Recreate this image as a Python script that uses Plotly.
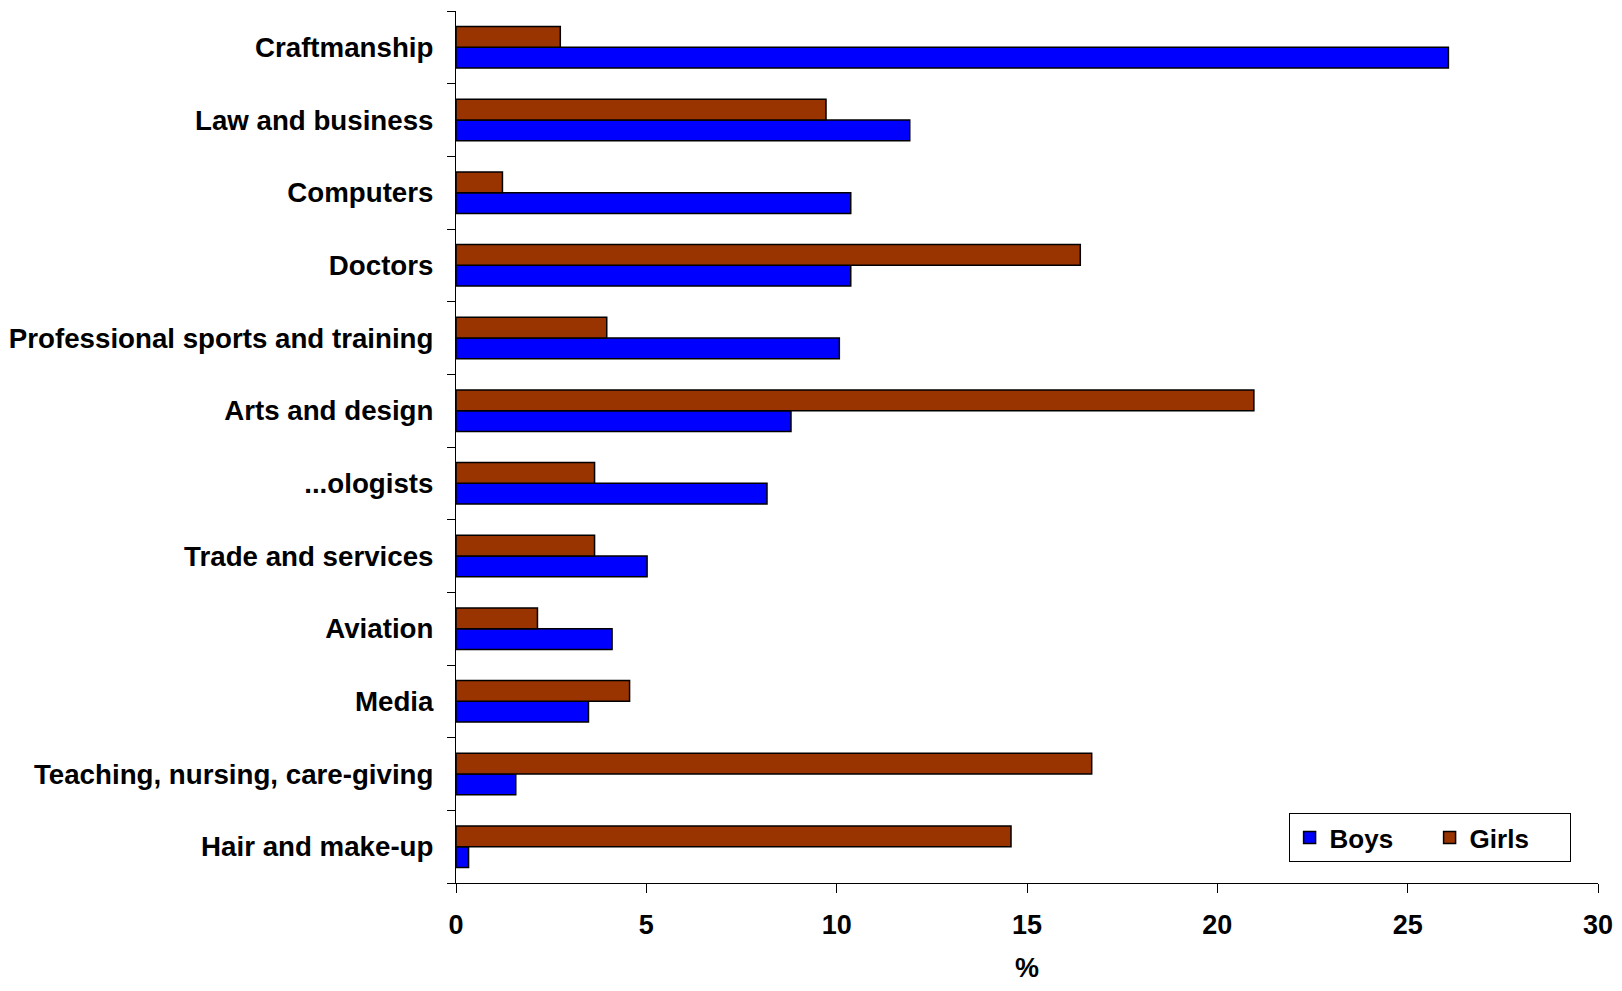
import plotly.graph_objects as go

# categories listed bottom to top
categories = [
    "Hair and make-up",
    "Teaching, nursing, care-giving",
    "Media",
    "Aviation",
    "Trade and services",
    "...ologists",
    "Arts and design",
    "Professional sports and training",
    "Doctors",
    "Computers",
    "Law and business",
    "Craftmanship",
]
boys = [0.33, 1.57, 3.48, 4.10, 5.02, 8.17, 8.80, 10.07, 10.37, 10.37, 11.92, 26.07]
girls = [14.58, 16.70, 4.56, 2.14, 3.64, 3.64, 20.96, 3.96, 16.40, 1.22, 9.72, 2.74]
x_ticks = [0, 5, 10, 15, 20, 25, 30]

FONT = "Liberation Sans"

fig = go.Figure()
fig.add_trace(go.Bar(
    y=categories, x=boys, name="Boys", orientation="h",
    marker=dict(color="#0000FF", line=dict(color="black", width=1.5)),
))
fig.add_trace(go.Bar(
    y=categories, x=girls, name="Girls", orientation="h",
    marker=dict(color="#993300", line=dict(color="black", width=1.5)),
))

# page body has an 8px margin, so the figure starts at (8, 8)
fig.update_layout(
    width=1606, height=975,
    margin=dict(l=448, r=16, t=3, b=100),
    plot_bgcolor="white", paper_bgcolor="white",
    barmode="group", bargap=0.43, bargroupgap=0,
    font=dict(family=FONT, color="black"),
    legend=dict(
        orientation="h", x=0.976, y=0.024, xanchor="right", yanchor="bottom",
        bordercolor="black", borderwidth=1, bgcolor="white",
        font=dict(family=FONT, size=26, color="black", weight="bold"),
        entrywidth=95, entrywidthmode="pixels",
    ),
)
fig.update_xaxes(
    range=[0, 30], tickvals=x_ticks, automargin=False,
    showgrid=False, zeroline=False,
    showline=True, linecolor="black", linewidth=1,
    ticks="outside", ticklen=9, tickcolor="black",
    tickfont=dict(family=FONT, size=27, color="black", weight="bold"),
    ticklabelstandoff=9, ticklabeloverflow="allow",
    title=dict(text="%", font=dict(family=FONT, size=27, color="black", weight="bold"), standoff=27),
)
fig.update_yaxes(
    automargin=False,
    showgrid=False, zeroline=False,
    showline=True, linecolor="black", linewidth=1,
    ticks="outside", ticklen=8, tickcolor="black", tickson="boundaries",
    tickfont=dict(family=FONT, size=27.7, color="black", weight="bold"), ticklabelstandoff=16,
)

fig.write_html("out.html")
